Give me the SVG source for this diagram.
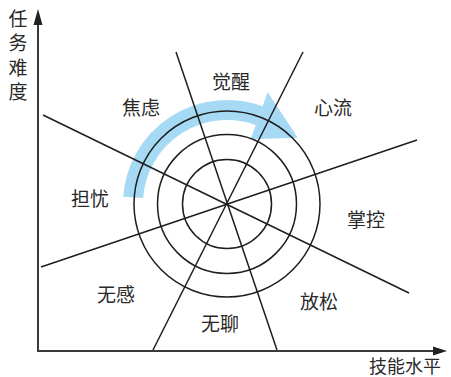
<svg xmlns="http://www.w3.org/2000/svg" width="451" height="377" viewBox="0 0 451 377">
<style>
.ln{stroke:#1e1e1e;stroke-width:1.5;fill:none}
.ax{stroke:#3a3a3a;stroke-width:2;fill:none}
.lb{font-family:"Noto Sans CJK SC","Noto Sans",sans-serif;font-size:19px;fill:#2a2a2a;text-anchor:middle;dominant-baseline:central}
</style>
<rect width="451" height="377" fill="#fff"/>
<g id="flow-arrow">
<path d="M133.2,197.4 A94,94 0 0 1 259.2,115.7" stroke="#a6daf4" stroke-width="20" fill="none"/>
<polygon points="250.6,139.2 267.7,92.2 297.9,137.8" fill="#a6daf4"/>
</g>
<g id="connectors">
<line class="ln" x1="176" y1="52" x2="277" y2="350"/>
<line class="ln" x1="303" y1="52" x2="153" y2="350"/>
<line class="ln" x1="43" y1="115" x2="409" y2="293"/>
<line class="ln" x1="41" y1="267" x2="417" y2="140"/>
</g>
<g id="rings">
<circle class="ln" cx="227" cy="204" r="44.5"/>
<circle class="ln" cx="227" cy="204" r="69.5"/>
<circle class="ln" cx="227" cy="204" r="93"/>
</g>
<g id="axes">
<polyline class="ax" points="38,22 38,351 436,351"/>
<polygon points="38,9 33.5,25 42.5,25" fill="#222"/>
<polygon points="447,351 433,346.5 433,355.5" fill="#222"/>
</g>
<g id="axis-y-label">
<text x="18" y="9" style="font-family:'Noto Sans CJK SC','Noto Sans',sans-serif;font-size:19px;fill:#2a2a2a;writing-mode:vertical-rl;letter-spacing:5.5px">任务难度</text>
</g>
<g id="axis-x-label"><text class="lb" x="405" y="365" style="font-size:18px">技能水平</text></g>
<g id="n-arousal"><text class="lb" x="231" y="80">觉醒</text></g>
<g id="n-anxiety"><text class="lb" x="141" y="106">焦虑</text></g>
<g id="n-flow"><text class="lb" x="333" y="106">心流</text></g>
<g id="n-worry"><text class="lb" x="90" y="197">担忧</text></g>
<g id="n-control"><text class="lb" x="366" y="218">掌控</text></g>
<g id="n-apathy"><text class="lb" x="116" y="293">无感</text></g>
<g id="n-boredom"><text class="lb" x="220" y="322">无聊</text></g>
<g id="n-relax"><text class="lb" x="319" y="300">放松</text></g>
</svg>
